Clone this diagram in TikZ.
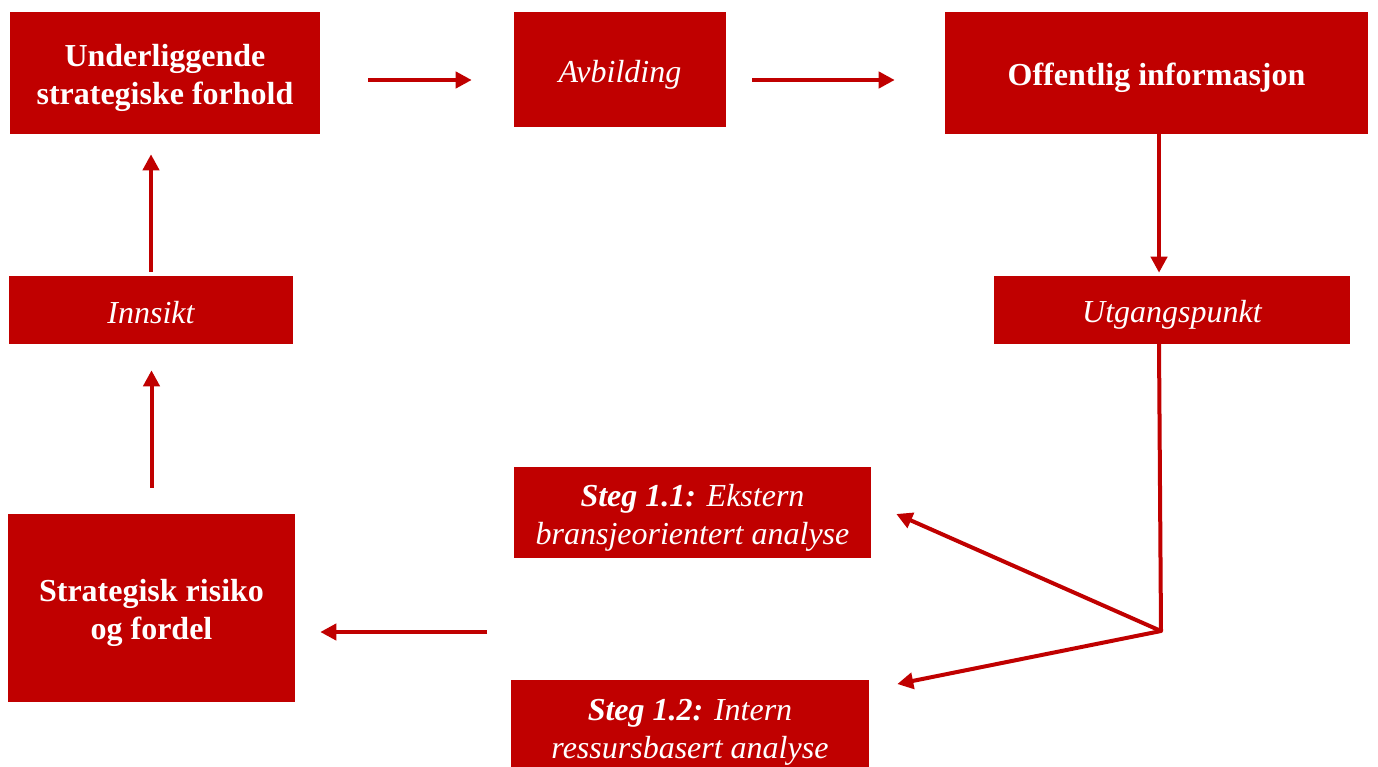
\documentclass[tikz,border=0pt]{standalone}
\usepackage{fontspec}
\setmainfont{Liberation Serif}
\usetikzlibrary{arrows.meta}
\definecolor{boxred}{RGB}{192,0,0}
\begin{document}
\begin{tikzpicture}[x=0.75pt,y=-0.75pt,
  box/.style={fill=boxred,draw=none,inner sep=0pt},
  txt/.style={text=white,align=center,inner sep=0pt,yshift=-3.9pt,
    font=\fontsize{24}{28.5}\selectfont},
  link/.style={draw=boxred,line width=3pt},
  arr/.style={link,-{Triangle[length=12pt,width=12pt]}}]
\useasboundingbox (0,0) rectangle (1378,767);
\begin{scope}
\clip (0,0) rectangle (1378,767);
% boxes, each with its caption set slightly below the centre
\node[box,minimum width=232.5pt,minimum height=91.5pt,
  label={[txt]center:{\bfseries Underliggende\\\bfseries strategiske forhold}}]
  (u) at (165,73) {};
\node[box,minimum width=159pt,minimum height=86.25pt,
  label={[txt]center:{\itshape Avbilding}}]
  (a) at (620,69.5) {};
\node[box,minimum width=317.25pt,minimum height=91.5pt,
  label={[txt]center:{\bfseries Offentlig informasjon}}]
  (o) at (1156.5,73) {};
\node[box,minimum width=213pt,minimum height=51pt,
  label={[txt,yshift=2pt]center:{\itshape Innsikt}}]
  (i) at (151,310) {};
\node[box,minimum width=267pt,minimum height=51pt,
  label={[txt]center:{\itshape Utgangspunkt}}]
  (g) at (1172,310) {};
\node[box,minimum width=267.75pt,minimum height=68.25pt,
  label={[txt]center:{\itshape\textbf{Steg 1.1:} Ekstern\\\itshape bransjeorientert analyse}}]
  (s1) at (692.5,512.5) {};
\node[box,minimum width=268.5pt,minimum height=71.25pt,
  label={[txt]center:{\itshape\textbf{Steg 1.2:} Intern\\\itshape ressursbasert analyse}}]
  (s2) at (690,727.5) {};
\node[box,minimum width=215.25pt,minimum height=141pt,
  label={[txt]center:{\bfseries Strategisk risiko\\\bfseries og fordel}}]
  (s) at (151.5,608) {};
% connectors
\draw[arr,shorten <=36pt,shorten >=31.5pt]
  ([yshift=-5.25pt]u.east) -- ([yshift=-5.25pt]u.east -| a.west);
\draw[arr,shorten <=19.5pt,shorten >=37.5pt]
  ([yshift=-7.875pt]a.east) -- ([yshift=-7.875pt]a.east -| o.west);
\draw[arr,shorten >=2.25pt]
  ([xshift=1.9pt]o.south) -- ([xshift=1.9pt]o.south |- g.north);
\coordinate (j) at (1161,631);
\draw[link,line cap=round] ([xshift=-9.75pt]g.south) -- (j);
\draw[arr] (j) -- ([xshift=18.75pt,yshift=-1.1pt]s1.east);
\draw[arr] (j) -- ([xshift=21pt,yshift=32.6pt]s2.east);
\coordinate (m) at (487,632);
\draw[arr] (m) -- ([xshift=18.75pt,yshift=-18pt]s.east);
\draw[arr,shorten <=19.5pt,shorten >=19.5pt] (s.north) -- (s.north |- i.south);
\draw[arr,shorten <=3pt,shorten >=15pt] (i.north) -- (i.north |- u.south);
\end{scope}
\end{tikzpicture}
\end{document}
